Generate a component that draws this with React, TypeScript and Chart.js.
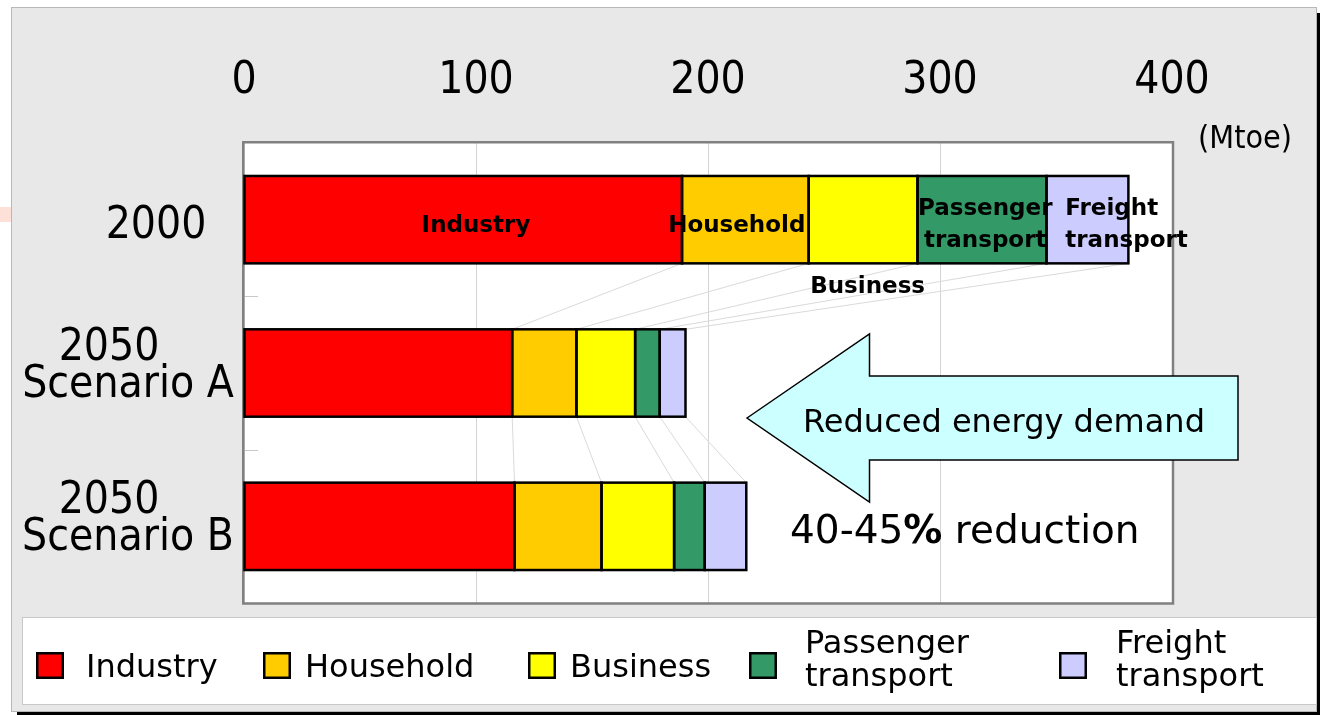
import React, { useEffect, useRef } from "react";
import { Chart, registerables } from "chart.js";

Chart.register(...registerables);

// ---------------- data ----------------
const categories = ["2000", "2050\nScenario A", "2050\nScenario B"];
const seriesNames = ["Industry", "Household", "Business", "Passenger transport", "Freight transport"];
const industry = [188.8, 115.6, 116.6];
const household = [54.6, 27.7, 37.5];
const business = [46.9, 25.3, 31.3];
const passenger = [55.6, 10.6, 13.2];
const freight = [35.3, 11.1, 17.9];
const xMin = 0;
const xMax = 400;
const xStep = 100;
const unitLabel = "(Mtoe)";
const arrowText = "Reduced energy demand";
const reductionParts = ["40-45", "%", " reduction"];
// labels written on the 2000 bar (x in data units)
const barLabelTexts = [["Industry"], ["Household"], ["Business"], ["Passenger", "transport"], ["Freight", "transport"]];
const barLabelX = [100, 212.4, 268.8, 319.5, 354];

// ---------------- styles ----------------
const colors = ["#ff0000", "#ffcc00", "#ffff00", "#339966", "#ccccff"];
const FONT = "'DejaVu Sans', 'Liberation Sans', sans-serif";
const FONT_COND = "'DejaVu Sans Condensed', 'Liberation Sans', sans-serif";

const barLabelStyle = [
  { align: "center", dy: [12] },
  { align: "center", dy: [12] },
  { align: "center", dy: [73] },
  { align: "center", dy: [-5, 27] },
  { align: "left", dy: [-5, 27] },
];

const legendSquareX = [36, 263, 528, 749, 1059];
const legendTextX = [86, 305, 570, 805, 1116];

const decor = {
  id: "decor",
  beforeDraw(chart: any) {
    const ctx = chart.ctx;
    const { left, right, top, bottom } = chart.chartArea;
    ctx.save();
    ctx.fillStyle = "#ffffff";
    ctx.fillRect(0, 0, chart.width, chart.height);
    ctx.fillStyle = "#fde0d8";
    ctx.fillRect(0, 207, 11, 15);
    // shadow
    ctx.fillStyle = "#000000";
    ctx.fillRect(1317, 13, 3, 702);
    ctx.fillRect(17, 712, 1303, 3);
    // panel
    ctx.fillStyle = "#e8e8e8";
    ctx.fillRect(11, 7, 1306, 705);
    ctx.strokeStyle = "#b8b8b8";
    ctx.lineWidth = 1;
    ctx.strokeRect(11.5, 7.5, 1305, 704);
    // plot area
    ctx.fillStyle = "#ffffff";
    ctx.fillRect(left, top, right - left, bottom - top);
    ctx.restore();
  },
  beforeDatasetsDraw(chart: any) {
    const ctx = chart.ctx;
    const { left, right, top, bottom } = chart.chartArea;
    const n = chart.data.labels.length;
    ctx.save();
    // series lines
    ctx.strokeStyle = "#dadada";
    ctx.lineWidth = 1;
    ctx.beginPath();
    chart.data.datasets.forEach((_: any, i: number) => {
      const meta = chart.getDatasetMeta(i);
      for (let c = 0; c < n - 1; c++) {
        const a = meta.data[c];
        const b = meta.data[c + 1];
        ctx.moveTo(a.x, a.y + a.height / 2);
        ctx.lineTo(b.x, b.y - b.height / 2);
      }
    });
    ctx.stroke();
    // category tick marks
    const ys = chart.scales.y;
    const spacing = (bottom - top) / n;
    ctx.strokeStyle = "#c8c8c8";
    ctx.beginPath();
    for (let c = 0; c < n - 1; c++) {
      const y = Math.round(ys.getPixelForValue(c) + spacing / 2) + 0.5;
      ctx.moveTo(left, y);
      ctx.lineTo(left + 14, y);
    }
    ctx.stroke();
    // plot border
    ctx.strokeStyle = "#808080";
    ctx.lineWidth = 2.5;
    ctx.strokeRect(left - 0.75, top - 0.75, right - left + 1.75, bottom - top + 1.25);
    ctx.restore();
  },
  afterDatasetsDraw(chart: any) {
    const ctx = chart.ctx;
    const xs = chart.scales.x;
    const ys = chart.scales.y;
    ctx.save();

    // bar outlines (shared edges -> single line)
    ctx.strokeStyle = "#000";
    ctx.lineWidth = 2.5;
    chart.data.datasets.forEach((_: any, i: number) => {
      const meta = chart.getDatasetMeta(i);
      meta.data.forEach((el: any) => {
        const x0 = Math.min(el.base, el.x);
        const w = Math.abs(el.x - el.base);
        ctx.strokeRect(x0, el.y - el.height / 2, w, el.height);
      });
    });

    ctx.fillStyle = "#000";
    ctx.textBaseline = "alphabetic";

    // y category labels
    ctx.font = `44px ${FONT_COND}`;
    ctx.textAlign = "center";
    chart.data.labels.forEach((lab: string, c: number) => {
      const cy = ys.getPixelForValue(c);
      const lines = lab.split("\n");
      if (lines.length === 1) {
        ctx.fillText(lines[0], 156, cy + 18);
      } else {
        ctx.fillText(lines[0], 109, cy - 13);
        ctx.fillText(lines[1], 128, cy + 24);
      }
    });

    // unit label
    ctx.font = `32px ${FONT_COND}`;
    ctx.textAlign = "right";
    ctx.fillText(unitLabel, 1292, 148);

    // bar labels (on first category)
    ctx.font = `bold 23px ${FONT}`;
    const cy0 = ys.getPixelForValue(0);
    barLabelTexts.forEach((lines, i) => {
      const st = barLabelStyle[i];
      ctx.textAlign = st.align;
      const x = xs.getPixelForValue(barLabelX[i]);
      lines.forEach((t, k) => ctx.fillText(t, x, cy0 + st.dy[k]));
    });

    // arrow
    ctx.beginPath();
    ctx.moveTo(747, 418);
    ctx.lineTo(869.5, 334);
    ctx.lineTo(869.5, 376);
    ctx.lineTo(1238, 376);
    ctx.lineTo(1238, 460);
    ctx.lineTo(869.5, 460);
    ctx.lineTo(869.5, 502);
    ctx.closePath();
    ctx.fillStyle = "#ccffff";
    ctx.fill();
    ctx.strokeStyle = "#000";
    ctx.lineWidth = 1.5;
    ctx.stroke();
    ctx.fillStyle = "#000";
    ctx.font = `32px ${FONT}`;
    ctx.textAlign = "center";
    ctx.fillText(arrowText, 1004, 432);

    // reduction text
    ctx.textAlign = "left";
    let x = 790;
    reductionParts.forEach((p, i) => {
      ctx.font = `${i === 1 ? "bold " : ""}39px ${FONT}`;
      ctx.fillText(p, x, 543);
      x += ctx.measureText(p).width;
    });

    // legend
    ctx.fillStyle = "#ffffff";
    ctx.fillRect(22, 617, 1295, 88);
    ctx.strokeStyle = "#c8c8c8";
    ctx.lineWidth = 1;
    ctx.strokeRect(22.5, 617.5, 1294, 87);
    ctx.font = `32px ${FONT}`;
    ctx.textAlign = "left";
    chart.data.datasets.forEach((ds: any, i: number) => {
      ctx.fillStyle = ds.backgroundColor;
      ctx.fillRect(legendSquareX[i], 652, 28, 27);
      ctx.strokeStyle = "#000";
      ctx.lineWidth = 2.5;
      ctx.strokeRect(legendSquareX[i] + 1.25, 653.25, 25.5, 24.5);
      ctx.fillStyle = "#000";
      const words = ds.label.split(" ");
      if (words.length === 1) {
        ctx.fillText(words[0], legendTextX[i], 677);
      } else {
        ctx.fillText(words[0], legendTextX[i], 653);
        ctx.fillText(words[1], legendTextX[i], 686);
      }
    });
    ctx.restore();
  },
};

export default function App() {
  const ref = useRef<HTMLCanvasElement>(null);
  useEffect(() => {
    const values = [industry, household, business, passenger, freight];
    const chart = new Chart(ref.current as HTMLCanvasElement, {
      type: "bar",
      data: {
        labels: categories,
        datasets: seriesNames.map((name, i) => ({
          label: name,
          data: values[i],
          backgroundColor: colors[i],
          borderWidth: 0,
          inflateAmount: 0,
          categoryPercentage: 1,
          barPercentage: 0.57,
        })),
      },
      options: {
        indexAxis: "y",
        responsive: false,
        animation: false,
        devicePixelRatio: 1,
        layout: { padding: { left: 244, right: 148, top: 0, bottom: 112 } },
        scales: {
          x: {
            position: "top",
            stacked: true,
            min: xMin,
            max: xMax,
            ticks: {
              stepSize: xStep,
              color: "#000",
              font: { family: FONT_COND, size: 44, lineHeight: 1 },
              padding: 39,
              maxRotation: 0,
            },
            grid: { color: "#d4d4d4", drawTicks: false, lineWidth: 1 },
            border: { display: false },
            afterFit: (s: any) => {
              s.height = 143;
            },
          },
          y: { stacked: true, display: false },
        },
        plugins: { legend: { display: false }, tooltip: { enabled: false } },
      },
      plugins: [decor],
    } as any);
    return () => chart.destroy();
  }, []);
  return (
    <div style={{ position: "fixed", left: 0, top: 0, width: 1320, height: 715 }}>
      <canvas ref={ref} width={1320} height={715} style={{ display: "block" }} />
    </div>
  );
}
